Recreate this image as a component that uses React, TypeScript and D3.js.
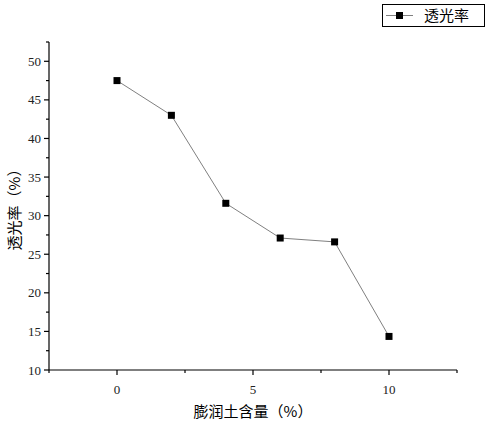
import React from "react";
import * as d3 from "d3";

const xValues = [0, 2, 4, 6, 8, 10];
const yValues = [47.5, 43.0, 31.6, 27.1, 26.6, 14.35];
const xTicks = [0, 5, 10];
const xMinorTicks = [-2.5, 2.5, 7.5, 12.5];
const yTicks = [10, 15, 20, 25, 30, 35, 40, 45, 50];
const yMinorTicks = [12.5, 17.5, 22.5, 27.5, 32.5, 37.5, 42.5, 47.5, 52.5];
const seriesName = "透光率";
const xLabel = "膨润土含量（%）";
const yLabel = "透光率（%）";

const W = 488;
const H = 424;
const left = 49;
const right = 457;
const top = 42;
const bottom = 370;

const serif = "'Liberation Serif', 'DejaVu Serif', serif";
const cjk = "'Noto Sans CJK SC', sans-serif";

export default function App() {
  const x = d3.scaleLinear().domain([-2.5, 12.5]).range([left, right]);
  const y = d3.scaleLinear().domain([10, 52.5]).range([bottom, top]);
  const pts = xValues.map((v, i) => [x(v), y(yValues[i])] as [number, number]);
  const line = d3.line()(pts) || "";
  const ms = 7;
  return (
    <svg width={W} height={H} style={{ position: "absolute", left: 0, top: 0, background: "#fff" }}>
      <rect width={W} height={H} fill="#fff" />
      <line x1={left} x2={left} y1={top} y2={bottom} stroke="#000" strokeWidth={1.2} />
      <line x1={left} x2={right} y1={bottom} y2={bottom} stroke="#000" strokeWidth={1.2} />
      {xTicks.map((t) => (
        <g key={"xt" + t}>
          <line x1={x(t)} x2={x(t)} y1={bottom} y2={bottom + 5} stroke="#000" strokeWidth={1.2} />
          <text x={x(t)} y={bottom + 24} textAnchor="middle" fontFamily={serif} fontSize={13} fill="#222">
            {t}
          </text>
        </g>
      ))}
      {xMinorTicks.map((t) => (
        <line key={"xm" + t} x1={x(t)} x2={x(t)} y1={bottom} y2={bottom + 3} stroke="#000" strokeWidth={1.2} />
      ))}
      {yTicks.map((t) => (
        <g key={"yt" + t}>
          <line x1={left - 5} x2={left} y1={y(t)} y2={y(t)} stroke="#000" strokeWidth={1.2} />
          <text x={left - 8} y={y(t) + 4.5} textAnchor="end" fontFamily={serif} fontSize={13} fill="#222">
            {t}
          </text>
        </g>
      ))}
      {yMinorTicks.map((t) => (
        <line key={"ym" + t} x1={left - 3} x2={left} y1={y(t)} y2={y(t)} stroke="#000" strokeWidth={1.2} />
      ))}
      <text x={(left + right) / 2} y={417} textAnchor="middle" fontFamily={cjk} fontSize={15} fill="#000">
        {xLabel}
      </text>
      <text
        transform={`translate(20, ${(top + bottom) / 2}) rotate(-90)`}
        textAnchor="middle"
        fontFamily={cjk}
        fontSize={15}
        fill="#000"
      >
        {yLabel}
      </text>
      <path d={line} fill="none" stroke="#808080" strokeWidth={1} />
      {pts.map(([px, py], i) => (
        <rect key={i} x={px - ms / 2} y={py - ms / 2} width={ms} height={ms} fill="#000" />
      ))}
      <rect x={382.5} y={4.5} width={102} height={22} fill="#fff" stroke="#000" strokeWidth={1} />
      <line x1={386} x2={413} y1={15.5} y2={15.5} stroke="#808080" strokeWidth={1} />
      <rect x={399.5 - ms / 2} y={15.5 - ms / 2} width={ms} height={ms} fill="#000" />
      <text x={424} y={21} fontFamily={cjk} fontSize={15} fill="#000">
        {seriesName}
      </text>
    </svg>
  );
}
